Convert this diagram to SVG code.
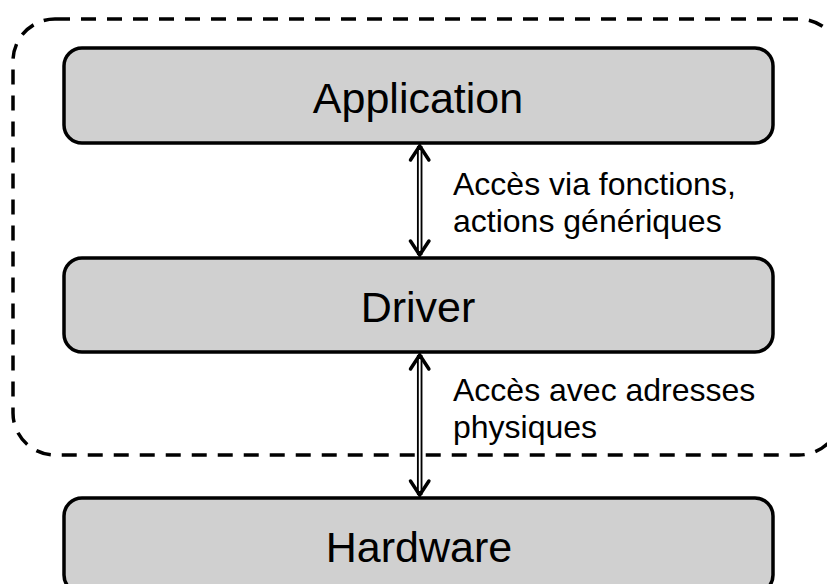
<svg xmlns="http://www.w3.org/2000/svg" width="827" height="584" viewBox="0 0 827 584">
  <style>
    .box { fill: #d0d0d0; stroke: #000; stroke-width: 3.5; }
    .title { font-family: "Liberation Sans", Arial, sans-serif; font-size: 43px; fill: #000; text-anchor: middle; }
    .label { font-family: "Liberation Sans", Arial, sans-serif; font-size: 32px; fill: #000; }
    .shaft-out { stroke: #000; stroke-width: 5.5; fill: none; }
    .shaft-in { stroke: #fff; stroke-width: 1.8; fill: none; }
    .head { stroke: #000; stroke-width: 3.5; fill: none; stroke-linecap: round; stroke-linejoin: miter; }
    .boundary { fill: none; stroke: #000; stroke-width: 3.5; stroke-dasharray: 15 11; }
  </style>

  <rect width="827" height="584" fill="#fff"/>

  <!-- software boundary -->
  <rect id="boundary" class="boundary" x="13" y="19" width="828" height="436" rx="42" ry="42"/>

  <g id="application">
    <rect class="box" x="64" y="48" width="709" height="95" rx="18" ry="18"/>
    <text class="title" x="418" y="113">Application</text>
  </g>

  <g id="driver">
    <rect class="box" x="64" y="258" width="709" height="94" rx="18" ry="18"/>
    <text class="title" x="418" y="322">Driver</text>
  </g>

  <g id="hardware">
    <rect class="box" x="64" y="498" width="709" height="95" rx="18" ry="18"/>
    <text class="title" x="419" y="562">Hardware</text>
  </g>

  <g id="connectors">
    <!-- application <-> driver -->
    <line class="shaft-out" x1="419.7" y1="146" x2="419.7" y2="255"/>
    <line class="shaft-in" x1="419.7" y1="150" x2="419.7" y2="251"/>
    <polyline class="head" points="410.5,160 419.7,146 428.9,160"/>
    <polyline class="head" points="410.5,241 419.7,255 428.9,241"/>

    <!-- driver <-> hardware -->
    <line class="shaft-out" x1="419.7" y1="355" x2="419.7" y2="495"/>
    <line class="shaft-in" x1="419.7" y1="359" x2="419.7" y2="491"/>
    <polyline class="head" points="410.5,369 419.7,355 428.9,369"/>
    <polyline class="head" points="410.5,481 419.7,495 428.9,481"/>
  </g>

  <g id="labels">
    <text class="label" x="453" y="195">Accès via fonctions,</text>
    <text class="label" x="453" y="232">actions génériques</text>
    <text class="label" x="453" y="401">Accès avec adresses</text>
    <text class="label" x="453" y="438">physiques</text>
  </g>
</svg>
